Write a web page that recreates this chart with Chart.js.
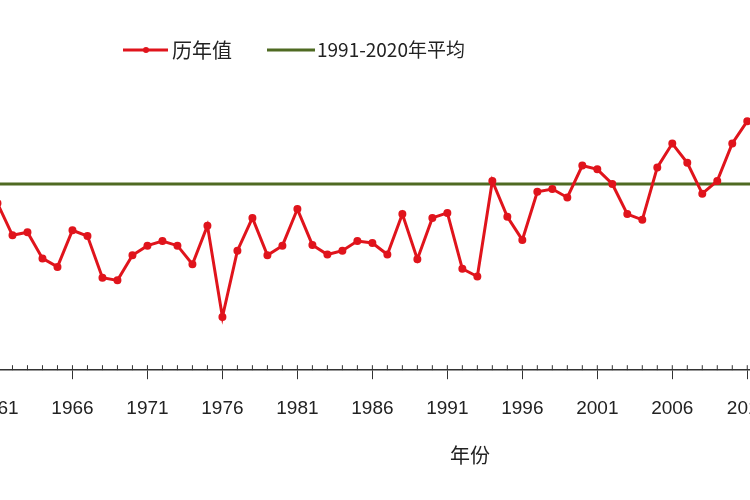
<!DOCTYPE html>
<html><head><meta charset="utf-8">
<script src="https://cdn.jsdelivr.net/npm/chart.js@4/dist/chart.umd.min.js"></script>
<style>html,body{margin:0;padding:0;background:#fff;overflow:hidden;width:750px;height:500px}#c{display:block;position:absolute;left:-50px;top:0}</style>
</head><body>
<canvas id="c" width="850" height="500"></canvas>
<script>
const years = [];
for (let y = 1961; y <= 2011; y++) years.push(y);
const values = [-0.50,-1.33,-1.25,-1.93,-2.15,-1.20,-1.35,-2.43,-2.50,-1.85,
 -1.60,-1.48,-1.60,-2.08,-1.08,-3.45,-1.73,-0.88,-1.85,-1.60,
 -0.65,-1.58,-1.83,-1.73,-1.48,-1.53,-1.83,-0.78,-1.95,-0.88,
 -0.75,-2.20,-2.40,0.08,-0.85,-1.45,-0.20,-0.13,-0.35,0.48,
 0.38,0.00,-0.78,-0.93,0.43,1.05,0.55,-0.25,0.08,1.05,1.63];
const avgValue = 0;
const tickYears = [1961,1966,1971,1976,1981,1986,1991,1996,2001,2006,2011];
const seriesNames = ['历年值','1991-2020年平均'];
const xTitle = '年份';

const FONT = '"Liberation Sans", Arial, sans-serif';
const OX = 50;
const extras = {
  id:'extras',
  afterDraw(chart){
    const ctx = chart.ctx, xs = chart.scales.x, a = chart.chartArea;
    ctx.save();
    ctx.strokeStyle = '#333'; ctx.lineWidth = 1;
    for (let y = 1955; y <= 2015; y++) {
      const px = xs.getPixelForValue(y);
      if (px < a.left || px > a.right) continue;
      ctx.beginPath(); ctx.moveTo(px, a.bottom); ctx.lineTo(px, a.bottom - 5); ctx.stroke();
    }
    ctx.font = '20px "Noto Sans CJK SC", sans-serif';
    ctx.textBaseline = 'middle'; ctx.fillStyle = '#222';
    ctx.strokeStyle = '#e0141c'; ctx.lineWidth = 3;
    ctx.beginPath(); ctx.moveTo(OX+123, 50); ctx.lineTo(OX+168, 50); ctx.stroke();
    ctx.fillStyle = '#e0141c'; ctx.beginPath(); ctx.arc(OX+146, 50, 3, 0, Math.PI*2); ctx.fill();
    ctx.fillStyle = '#222'; ctx.fillText(seriesNames[0], OX+172, 50);
    ctx.strokeStyle = '#4f6a22';
    ctx.beginPath(); ctx.moveTo(OX+267, 50); ctx.lineTo(OX+315, 50); ctx.stroke();
    ctx.font = '19px "Noto Sans CJK SC", sans-serif';
    ctx.fillText(seriesNames[1], OX+317, 50);
    ctx.font = '20px "Noto Sans CJK SC", sans-serif';
    ctx.textAlign = 'center';
    ctx.fillText(xTitle, OX+470, 455);
    ctx.restore();
  }
};

new Chart(document.getElementById('c'), {
  type: 'line',
  data: {
    datasets: [
      { label: seriesNames[0], data: years.map((y,i)=>({x:y, y:values[i]})),
        borderColor:'#e0141c', backgroundColor:'#e0141c', borderWidth:3,
        pointRadius:2.5, pointHoverRadius:2.5, tension:0 },
      { label: seriesNames[1], data: [{x:1950,y:avgValue},{x:2020,y:avgValue}],
        borderColor:'#4f6a22', borderWidth:3, pointRadius:0, tension:0 }
    ]
  },
  options: {
    responsive:false, animation:false, events:[],
    layout:{padding:{left:0,right:0,top:0,bottom:62}},
    plugins:{legend:{display:false}, tooltip:{enabled:false}},
    scales:{
      x:{ type:'linear', min:1958.2, max:2014.15,
          afterBuildTicks(s){ s.ticks = tickYears.map(v=>({value:v})); },
          ticks:{ color:'#222', font:{family:FONT, size:19}, padding:18, maxRotation:0, autoSkip:false,
                  callback:v=>String(v) },
          grid:{ drawOnChartArea:false, tickLength:9, color:'#333' },
          border:{ display:true, color:'#333', width:1.5 } },
      y:{ display:false, min:-4.83, max:4.63 }
    }
  },
  plugins:[extras]
});
</script>
</body></html>
